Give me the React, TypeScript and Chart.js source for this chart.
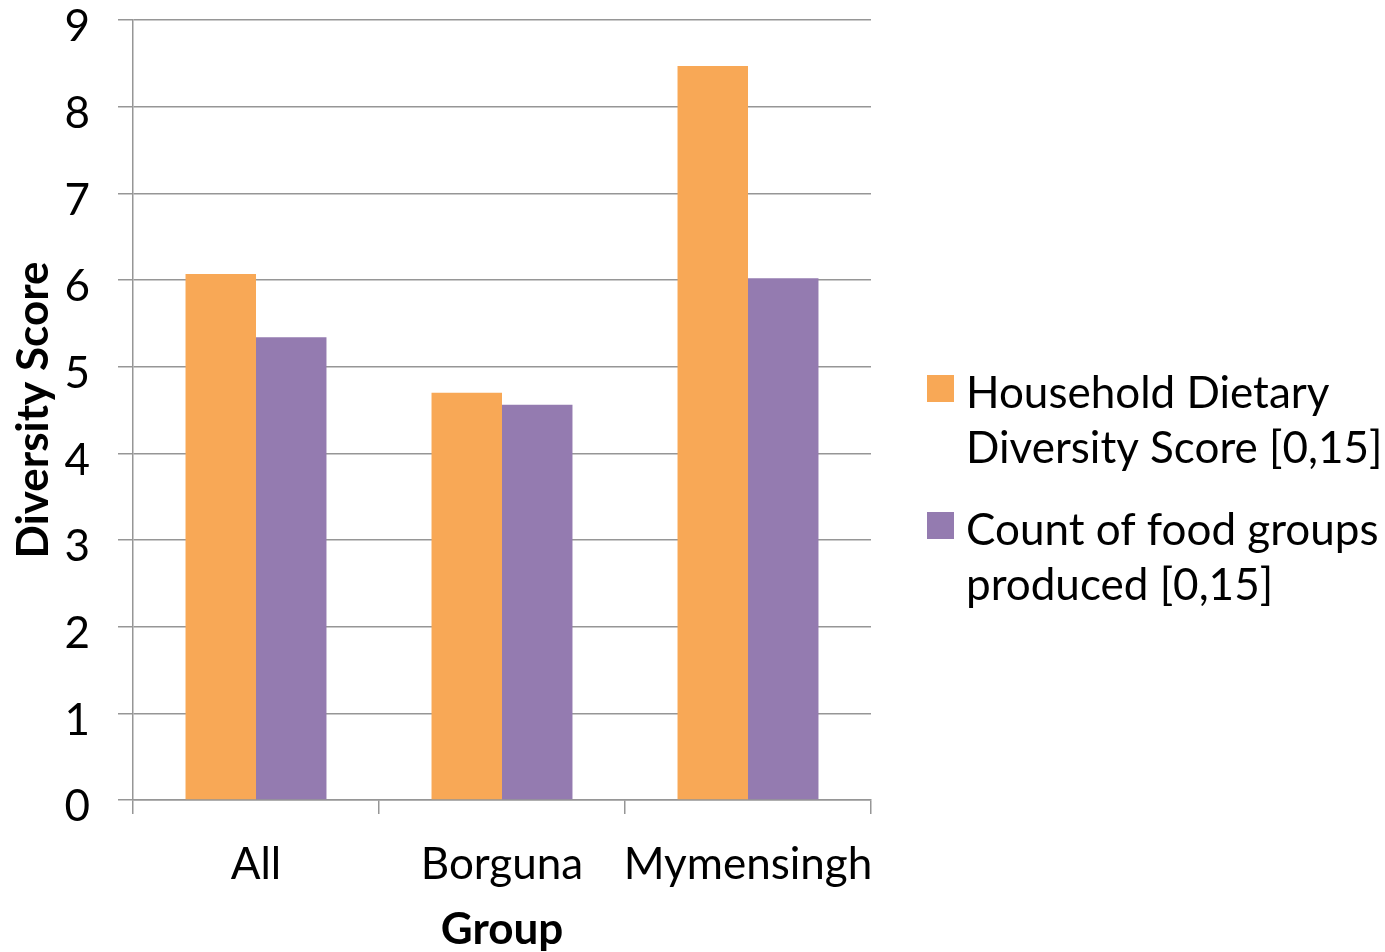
import React, { useEffect, useRef } from "react";
import { Chart, registerables } from "chart.js";

Chart.register(...registerables);

const categories = ["All", "Borguna", "Mymensingh"];
const hddsValues = [6.07, 4.7, 8.47];
const foodGroupValues = [5.34, 4.56, 6.02];
const seriesLabels = [
  "Household Dietary Diversity Score [0,15]",
  "Count of food groups produced [0,15]",
];
const legendLines = [
  ["Household Dietary", "Diversity Score [0,15]"],
  ["Count of food groups", "produced [0,15]"],
];
const seriesColors = ["#F8A856", "#947BB0"];
const yMin = 0;
const yMax = 9;
const yStep = 1;
const yTitle = "Diversity Score";
const xTitle = "Group";

const FONT = "Lato";
const GRID = "#969696";

const legendPlugin = {
  id: "sideLegend",
  afterDraw(chart: any) {
    const { ctx, chartArea } = chart;
    const x0 = chartArea.right + 56;
    const boxSize = 27;
    const textX = x0 + 39;
    const lineH = 55;
    const itemGap = 27;
    let baseline = chart.height / 2 - 68;
    ctx.save();
    ctx.font = `44px ${FONT}`;
    ctx.textBaseline = "alphabetic";
    ctx.textAlign = "left";
    chart.data.datasets.forEach((ds: any, i: number) => {
      ctx.fillStyle = ds.backgroundColor;
      ctx.fillRect(x0, baseline - 33, boxSize, boxSize);
      ctx.fillStyle = "#000";
      legendLines[i].forEach((line, j) => {
        ctx.fillText(line, textX, baseline + j * lineH);
      });
      baseline += legendLines[i].length * lineH + itemGap;
    });
    ctx.restore();
  },
};

export default function App() {
  const ref = useRef<HTMLCanvasElement>(null);
  useEffect(() => {
    if (!ref.current) return;
    const chart = new Chart(ref.current, {
      type: "bar",
      data: {
        labels: categories,
        datasets: [
          {
            label: seriesLabels[0],
            data: hddsValues,
            backgroundColor: seriesColors[0],
            categoryPercentage: 0.573,
            barPercentage: 1,
          },
          {
            label: seriesLabels[1],
            data: foodGroupValues,
            backgroundColor: seriesColors[1],
            categoryPercentage: 0.573,
            barPercentage: 1,
          },
        ],
      },
      options: {
        animation: false,
        responsive: false,
        maintainAspectRatio: false,
        layout: { padding: { left: 0, top: 20, right: 514, bottom: 0 } },
        plugins: {
          legend: { display: false },
          tooltip: { enabled: false },
        },
        scales: {
          x: {
            grid: {
              offset: true,
              drawOnChartArea: false,
              drawTicks: true,
              tickLength: 14,
              color: GRID,
              lineWidth: 1.5,
            },
            border: { display: true, color: GRID, width: 1.5 },
            ticks: {
              color: "#000",
              font: { family: FONT, size: 44 },
              padding: 24,
              maxRotation: 0,
              minRotation: 0,
              autoSkip: false,
            },
            title: {
              display: true,
              text: xTitle,
              color: "#000",
              font: { family: FONT, size: 44, weight: "bold", lineHeight: 1.0 },
              padding: { top: 0, bottom: 0 },
            },
            afterFit(scale: any) {
              scale.height = 152;
              scale.paddingLeft = 0;
              scale.paddingRight = 0;
            },
          },
          y: {
            min: yMin,
            max: yMax,
            ticks: {
              stepSize: yStep,
              color: "#000",
              font: { family: FONT, size: 44 },
              padding: 28,
              labelOffset: 7,
            },
            grid: {
              color: GRID,
              lineWidth: 1.5,
              drawTicks: true,
              tickLength: 15,
            },
            border: { display: true, color: GRID, width: 1.5 },
            title: {
              display: true,
              text: yTitle,
              color: "#000",
              font: { family: FONT, size: 44, weight: "bold" },
              padding: { top: 7, bottom: 0 },
            },
            afterFit(scale: any) {
              scale.width = 133;
              scale.paddingTop = 0;
              scale.paddingBottom = 0;
            },
          },
        },
      },
      plugins: [legendPlugin],
    });
    return () => chart.destroy();
  }, []);
  return (
    <div style={{ position: "fixed", left: 0, top: 0, width: 1385, height: 952, background: "#fff" }}>
      <canvas ref={ref} width={1385} height={952} style={{ width: 1385, height: 952 }} />
    </div>
  );
}
